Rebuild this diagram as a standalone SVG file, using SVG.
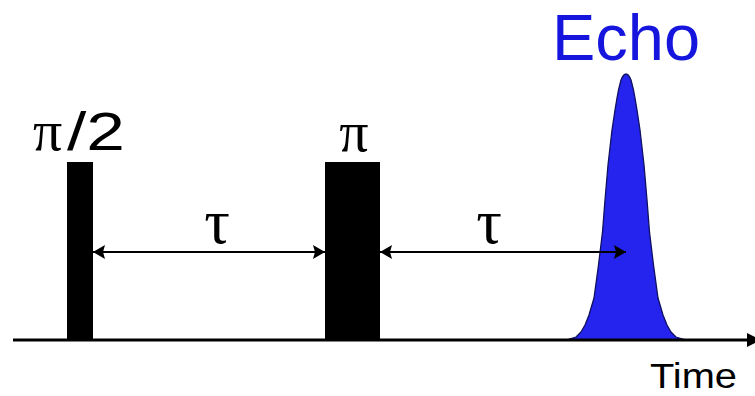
<svg xmlns="http://www.w3.org/2000/svg" width="755" height="396" viewBox="0 0 755 396">
  <style>
    .sans { font-family: "Liberation Sans", Arial, sans-serif; }
    .serif { font-family: "Liberation Serif", "Times New Roman", serif; }
    .pulse { fill: #000; }
    .conn { stroke: #000; stroke-width: 2.2; fill: none; }
    .axis { stroke: #000; stroke-width: 3; fill: none; }
  </style>
  <defs>
    <marker id="ah" viewBox="0 0 12 14" refX="12" refY="7" markerWidth="12" markerHeight="14" markerUnits="userSpaceOnUse" orient="auto-start-reverse">
      <path d="M0,0 L12,7 L0,14 L2,7 Z" fill="#000"/>
    </marker>
  </defs>
  <rect width="755" height="396" fill="#fff"/>

  <g id="echo">
    <path d="M566,340 L576,337 L581,332 L585,325 L589,315 L594,298 L598.5,265 L602.5,232 L605,200 L608,165 L612,130 L615,110 L617,98 L618.5,90 L621,80 Q626,68 631,80 L633.5,90 L635,98 L637,110 L640,130 L644,165 L647,200 L649.5,232 L653.5,265 L658,298 L663,315 L667,325 L671,332 L676,337 L686,340 Z" fill="#2424ee" stroke="#101060" stroke-width="1.3" stroke-linejoin="round"/>
    <text class="sans" x="552" y="60" font-size="64" fill="#1515dd" textLength="148" lengthAdjust="spacingAndGlyphs">Echo</text>
  </g>

  <g id="pulse1">
    <rect class="pulse" x="67" y="162" width="26" height="178"/>
    <text x="33" y="150" font-size="54"><tspan class="serif" font-size="58">π</tspan><tspan class="sans" x="67" textLength="58" lengthAdjust="spacingAndGlyphs">/2</tspan></text>
  </g>

  <g id="pulse2">
    <rect class="pulse" x="325" y="162" width="55" height="178"/>
    <text class="serif" x="354" y="151" font-size="58" text-anchor="middle">π</text>
  </g>

  <g id="connectors">
    <line class="axis" x1="13" y1="340" x2="750" y2="340"/>
    <path d="M747,333 L761,340 L747,347 Z" fill="#000"/>
    <line class="conn" x1="93" y1="252" x2="325" y2="252" marker-start="url(#ah)" marker-end="url(#ah)"/>
    <line class="conn" x1="380" y1="252" x2="626" y2="252" marker-start="url(#ah)" marker-end="url(#ah)"/>
  </g>

  <g id="labels">
    <text class="serif" x="217" y="243" font-size="64" text-anchor="middle">τ</text>
    <text class="serif" x="489" y="243" font-size="64" text-anchor="middle">τ</text>
    <text class="sans" x="650" y="388" font-size="35" textLength="87" lengthAdjust="spacingAndGlyphs">Time</text>
  </g>
</svg>
